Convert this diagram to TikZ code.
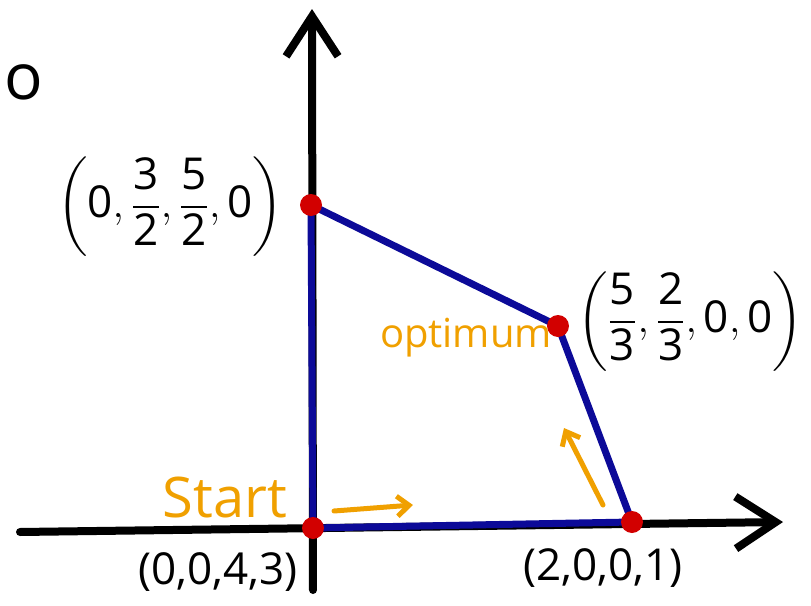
\documentclass[tikz,border=0pt]{standalone}
\usepackage{amsmath}
\usepackage{fontspec}
\setmainfont{Open Sans}
\usepackage{tikz}
\usetikzlibrary{arrows.meta,positioning}
\definecolor{penblue}{HTML}{0C0A98}
\definecolor{penred}{HTML}{D20000}
\definecolor{penorange}{HTML}{F0A000}
\newcommand{\hfr}[2]{\dfrac{\text{#1}}{\text{#2}}}
\newcommand{\tup}[1]{\ensuremath{\left(#1\right)}}

\begin{document}
\begin{tikzpicture}[
  x=0.5pt, y=-0.5pt,
  axis/.style={line width=4pt, line cap=round, line join=round,
    -{Straight Barb[length=20pt, width=26pt, line width=4pt]}},
  edge/.style={line width=3.5pt, penblue, line cap=round},
  vtx/.style={circle, fill=penred, minimum size=11pt, inner sep=0pt},
  lbl/.style={font=\fontsize{22}{24}\selectfont},
  note/.style={text=penorange, font=\fontsize{#1}{#1}\selectfont},
  move/.style={penorange, line width=2.5pt, line cap=round,
    -{Straight Barb[length=6pt, width=10pt, line width=2.5pt]}},
]
\useasboundingbox (0,0) rectangle (811,606);

% --- axes ---
\coordinate (xl) at (20,532);
\coordinate (xr) at (783,522);
\coordinate (yb) at (313,590);
\coordinate (yt) at (312,9);
\draw[axis] (xl) -- (xr);
\draw[axis] (yb) -- (yt);
\node[lbl, font=\fontsize{32}{32}\selectfont] (cut) at (24,82) {o};

% --- feasible region ---
\coordinate (p0) at (313,528);
\coordinate (p1) at (311,205);
\coordinate (p2) at (558,326);
\coordinate (p3) at (632,522);
\draw[edge] (p0) -- (p1) -- (p2) -- (p3) -- (p0);

% --- vertices ---
\node[vtx] (v0) at (p0) {};
\node[vtx] (v1) at (p1) {};
\node[vtx] (v2) at (p2) {};
\node[vtx] (v3) at (p3) {};

% --- labels ---
\node[lbl] (l0) at (218,572) {(0,0,4,3)};
\node[lbl] (l1) at (170,207) {\tup{\text{0},\hfr{3}{2},\hfr{5}{2},\text{0}}};
\node[lbl] (l2) at (690,322) {\tup{\hfr{5}{3},\hfr{2}{3},\text{0},\text{0}}};
\node[lbl] (l3) at (603,568) {(2,0,0,1)};

% --- path of the method ---
\node[note=28] (start) at (225,497) {Start};
\node[note=20] (opt) at (466,338) {optimum};
\coordinate (a0) at (334,511);
\coordinate (a1) at (413,505);
\coordinate (b0) at (603,505);
\coordinate (b1) at (564,428);
\draw[move] (a0) -- (a1);
\draw[move] (b0) -- (b1);
\end{tikzpicture}
\end{document}
